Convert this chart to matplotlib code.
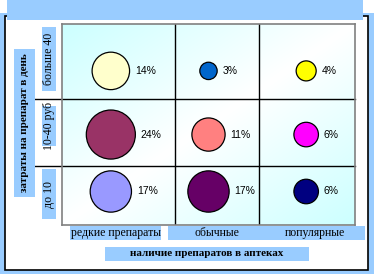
import matplotlib
matplotlib.use('Agg')
import matplotlib.pyplot as plt
import numpy as np
from matplotlib.patches import Rectangle

# data
x_cats = ['редкие препараты', 'обычные', 'популярные']
y_cats = ['до 10', '10-40 руб', 'больше 40']
x_title = 'наличие препаратов в аптеках'
y_title = 'затраты на препарат в день'

bubble_x = [0.5, 1.5, 2.5, 0.5, 1.5, 2.5, 0.5, 1.5, 2.5]
bubble_y = [2.3, 2.3, 2.3, 1.35, 1.35, 1.35, 0.5, 0.5, 0.5]
shares = [14, 3, 4, 24, 11, 6, 17, 17, 6]
colors = ['#FFFFCC', '#0066CC', '#FFFF00',
          '#993366', '#FF8080', '#FF00FF',
          '#9999FF', '#660066', '#000080']

W, H = 374, 274
LIGHT = '#99CCFF'

fig = plt.figure(figsize=(W / 100, H / 100), dpi=100)
fig.patch.set_facecolor('white')


def px_rect(x0, y0, x1, y1, fc, ec='none', lw=0, z=0):
    # pixel coords, y measured from top
    r = Rectangle((x0 / W, 1 - y1 / H), (x1 - x0) / W, (y1 - y0) / H,
                  transform=fig.transFigure, facecolor=fc, edgecolor=ec,
                  linewidth=lw, zorder=z)
    fig.patches.append(r)


def px_text(x, y, s, **kw):
    fig.text(x / W, 1 - y / H, s, ha='center', va='center', zorder=5, **kw)


# frame
px_rect(0, 13, W, H, LIGHT, z=-3)
px_rect(4.5, 15.5, 368, 270, 'white', ec='black', lw=1.2, z=-2)
px_rect(7, 0, 363, 20, LIGHT, z=-1)

ax = fig.add_axes([62 / W, 1 - 225 / H, 293 / W, 201 / H])
ax.set_zorder(1)
ax.set_xlim(0, 3)
ax.set_ylim(0, 3)

# gradient background
gx, gy = np.meshgrid(np.linspace(0, 1, 200), np.linspace(1, 0, 200))
u = np.abs(gx - gy)
c0 = np.array([1.0, 1.0, 1.0])
c1 = np.array([0.80, 1.0, 1.0])
img = c0[None, None, :] * (1 - u[..., None]) + c1[None, None, :] * u[..., None]
ax.imshow(img, extent=(0, 3, 0, 3), aspect='auto', zorder=0, origin='upper')

for sp in ax.spines.values():
    sp.set_color('#808080')
    sp.set_linewidth(1.2)
ax.set_xticks([])
ax.set_yticks([])

# grid lines
for xv in [1.16, 2.02]:
    ax.axvline(xv, color='black', lw=1.0, zorder=1)
for yv in [0.88, 1.88]:
    ax.plot([-0.45, 3], [yv, yv], color='black', lw=1.0, zorder=1, clip_on=False)

sizes = [52 * p for p in shares]
ax.scatter(bubble_x, bubble_y, s=sizes, c=colors, edgecolors='black',
           linewidths=0.9, zorder=3)

for x, y, p, s in zip(bubble_x, bubble_y, shares, sizes):
    r_pt = np.sqrt(s) / 2
    ax.annotate(f'{p}%', (x, y), xytext=(r_pt + 4, 0), textcoords='offset points',
                ha='left', va='center', fontsize=7.5, family='Liberation Sans',
                zorder=4)

# x category labels
px_rect(70, 226, 161, 240, LIGHT, z=2)
px_rect(168, 226, 365, 240, LIGHT, z=2)
for xc, lab in zip([116, 217, 315], x_cats):
    px_text(xc, 233, lab, fontsize=8.5, family='Liberation Serif')

px_rect(105, 247, 309, 261, LIGHT, z=2)
px_text(207, 254, x_title, fontsize=8, family='Liberation Serif',
        fontweight='bold')

# y category labels
for (y0, y1), lab in zip([(169, 219), (106, 146), (27, 91)], y_cats):
    px_rect(42, y0, 56, y1, LIGHT, z=2)
    px_text(49, (y0 + y1) / 2, lab, fontsize=8.5, family='Liberation Serif',
            rotation=90)

px_rect(14, 49, 35, 197, LIGHT, z=2)
px_text(24.5, 123, y_title, fontsize=8, family='Liberation Serif',
        fontweight='bold', rotation=90)

fig.savefig('out.png', dpi=100)
